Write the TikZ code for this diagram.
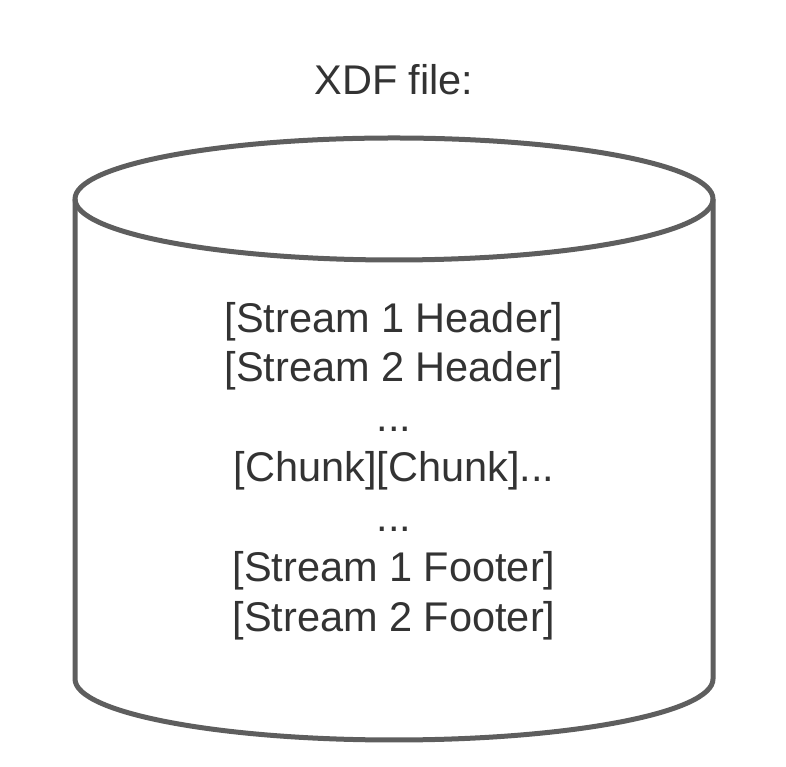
\documentclass[tikz,border=0pt]{standalone}
\usepackage{fontspec}
\setmainfont{Liberation Sans}
\usepackage{tikz}
\usetikzlibrary{positioning}
\definecolor{drumgray}{HTML}{5E5E5E}
\definecolor{inkgray}{HTML}{333333}

\begin{document}
\begin{tikzpicture}[x=1pt,y=1pt]
        % Define the styles
        \tikzstyle{outline}=[line width=5pt, draw=drumgray, line join=round]
        \tikzstyle{label}=[inner sep=0pt, text=inkgray, font=\fontsize{41.5}{49.9}\selectfont, align=center]

        \useasboundingbox (0,0) rectangle (786,767);

        % Centres of the top and bottom ellipses
        \coordinate (top) at (394,568);
        \coordinate (bottom) at (394,88);

        % Title above the cylinder
        \node (title)[label] at (394,687) {XDF file:};

        % Top lid
        \draw[outline] (top) ellipse [x radius=319, y radius=61];

        % Sides and lower rim
        \draw[outline] (75,568) -- (75,88) arc[start angle=180, end angle=360, x radius=319, y radius=61] -- (713,568);

        % Contents of the file
        \node (content)[label] at (394,296) {{[Stream 1 Header]}\\{[Stream 2 Header]}\\...\\{[Chunk][Chunk]...}\\...\\{[Stream 1 Footer]}\\{[Stream 2 Footer]}};
    \end{tikzpicture}
\end{document}
